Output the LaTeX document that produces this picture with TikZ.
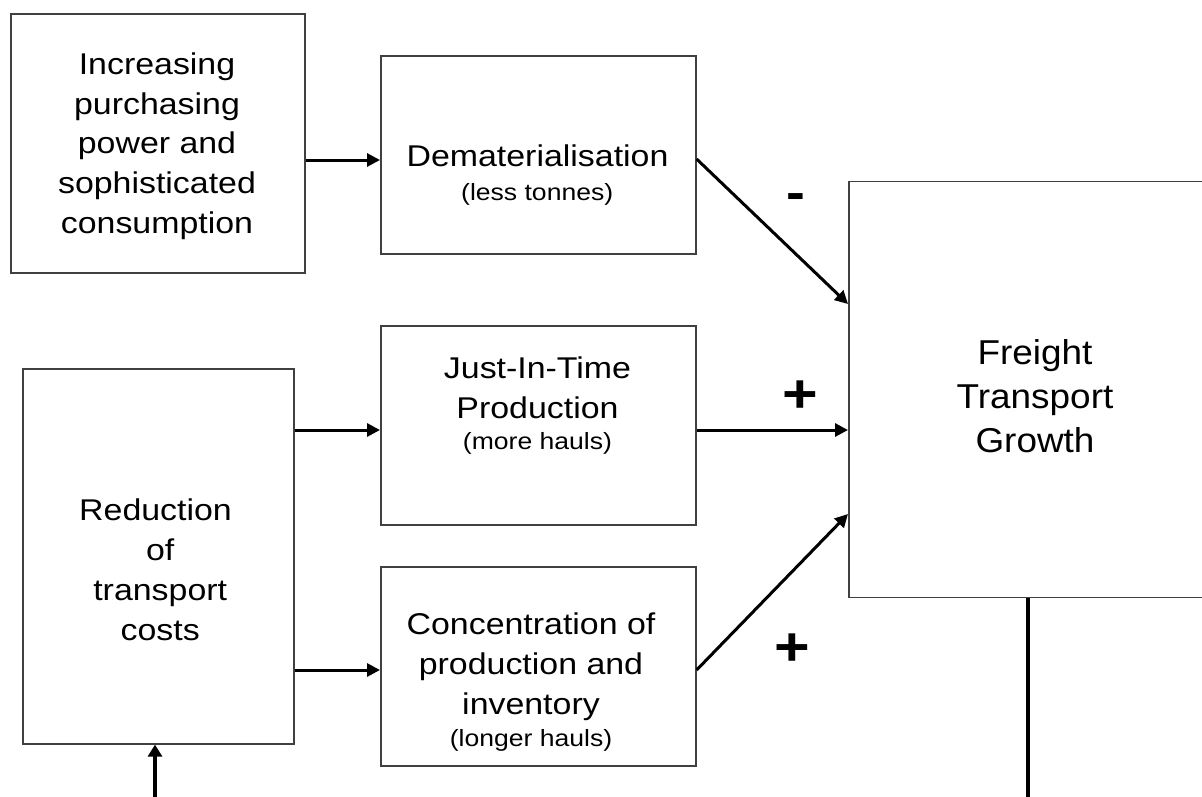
\documentclass[tikz,border=0pt]{standalone}
\usepackage{fontspec}
\setmainfont{Liberation Sans}[FakeStretch=1.13]
\newfontfamily\headfont{Liberation Sans}[FakeStretch=1.07]
\usetikzlibrary{arrows.meta}

\begin{document}
\begin{tikzpicture}[x=1pt,y=-1pt,
  box/.style={draw=black!75, line width=1.6pt, inner sep=0pt, anchor=north west},
  body/.style={inner sep=0pt, align=center, anchor=north, font=\fontsize{30}{39.7}\selectfont},
  note/.style={inner sep=0pt, anchor=base, font=\fontsize{23.5}{28}\selectfont},
  sign/.style={inner sep=0pt, anchor=base, font=\bfseries\fontsize{54}{60}\selectfont},
  link/.style={draw=black, line width=3pt, -{Triangle[length=13pt,width=13pt]}},
  feed/.style={draw=black, line width=3.4pt}]

\useasboundingbox (0,0) rectangle (1202,796);
\clip (0,0) rectangle (1202,796);
\fill[white] (0,0) rectangle (1202,796);

% boxes
\node[box, minimum width=294pt, minimum height=259pt] (inc) at (10,13) {};
\node[box, minimum width=315pt, minimum height=198pt] (dem) at (380,55) {};
\node[box, minimum width=315pt, minimum height=199pt] (jit) at (380,325) {};
\node[box, minimum width=315pt, minimum height=199pt] (conc) at (380,566) {};
\node[box, minimum width=271pt, minimum height=375pt] (red) at (22,368) {};
\node[box, minimum width=374pt, minimum height=416pt] (frt) at (848,180.7) {};

% box texts
\node[body] (incT) at (157,52.5) {Increasing\\purchasing\\power and\\sophisticated\\consumption};
\node[body, anchor=base] (demT) at (537.5,166.7) {Dematerialisation};
\node[note] (demN) at (537.2,200.7) {(less tonnes)};
\node[body] (jitT) at (537.5,357) {Just-In-Time\\Production};
\node[note] (jitN) at (537.5,449) {(more hauls)};
\node[body] (concT) at (531,613) {Concentration of\\production and\\inventory};
\node[note] (concN) at (531,746.7) {(longer hauls)};
\node[body] (redT) at (155.5,499) {Reduction\\\mbox{}\ of\\\mbox{}\ transport\\\mbox{}\ costs};
\node[body, font=\headfont\fontsize{34.5}{43.7}\selectfont] (frtT) at (1035,339.5) {Freight\\Transport\\Growth};

% connectors
\draw[link] (inc.east |- 0,160) -- (dem.west |- 0,160);
\draw[link] (dem.east |- 0,159) -- (frt.west |- 0,304);
\draw[link] (red.east |- 0,430) -- (jit.west |- 0,430);
\draw[link] (jit.east |- 0,430) -- (frt.west |- 0,430);
\draw[link] (red.east |- 0,670) -- (conc.west |- 0,670);
\draw[link] (conc.east |- 0,670) -- (frt.west |- 0,514);

\coordinate (cut) at (155,800);
\draw[link, line width=3.4pt, -{Triangle[length=12pt,width=14pt]}] (cut) -- (cut |- red.south);
\coordinate (drop) at (1028,800);
\draw[feed] (frt.south -| drop) -- (drop);

% effect signs
\node[sign, font=\bfseries\fontsize{50}{60}\selectfont] (minus) at (796,209.5) {-};
\node[sign] (plusA) at (800,412.4) {+};
\node[sign] (plusB) at (792,665.9) {+};
\end{tikzpicture}
\end{document}
